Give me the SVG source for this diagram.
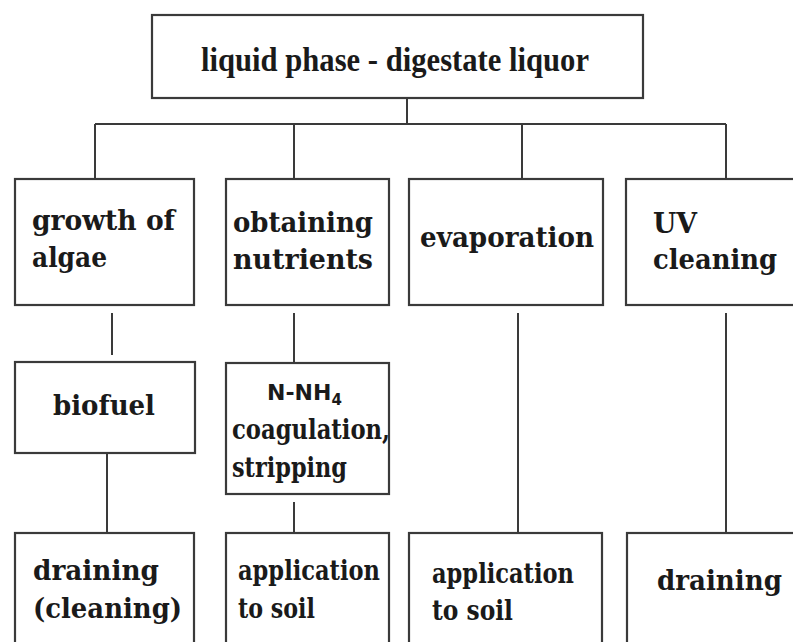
<svg xmlns="http://www.w3.org/2000/svg" width="793" height="642" viewBox="0 0 793 642">
<style>
.box{fill:#fff;stroke:#3a3a3a;stroke-width:2.2}
.ln{stroke:#3a3a3a;stroke-width:2;fill:none}
.t{font-family:"DejaVu Serif","Liberation Serif",serif;font-weight:bold;font-size:28px;fill:#1a1a1a}
.tt{font-family:"Liberation Serif","DejaVu Serif",serif;font-weight:bold;font-size:33px;fill:#1a1a1a}
.s{font-family:"DejaVu Sans","Liberation Sans",sans-serif;font-weight:bold;font-size:22px;fill:#1a1a1a}
</style>
<rect width="793" height="642" fill="#fff"/>
<g id="connectors">
<path class="ln" d="M407 98V124M95 124H726M95 124V179M294 124V179M522 124V179M726 124V179"/>
<path class="ln" d="M112 313V355M107 453V533M294 313V363M294 502V533M518 313V533M726 313V533"/>
</g>
<g id="n-top"><rect class="box" x="152" y="15" width="491" height="83"/><text class="tt" x="201" y="71" textLength="388" lengthAdjust="spacingAndGlyphs">liquid phase - digestate liquor</text></g>
<g id="n-algae"><rect class="box" x="15" y="179" width="179" height="126"/><text class="t" x="32" y="230" textLength="143" lengthAdjust="spacingAndGlyphs">growth of</text><text class="t" x="32" y="267" textLength="75" lengthAdjust="spacingAndGlyphs">algae</text></g>
<g id="n-nutrients"><rect class="box" x="226" y="179" width="163" height="126"/><text class="t" x="233" y="232" textLength="140" lengthAdjust="spacingAndGlyphs">obtaining</text><text class="t" x="233" y="269" textLength="140" lengthAdjust="spacingAndGlyphs">nutrients</text></g>
<g id="n-evap"><rect class="box" x="409" y="179" width="194" height="126"/><text class="t" x="420" y="247" textLength="174" lengthAdjust="spacingAndGlyphs">evaporation</text></g>
<g id="n-uv"><rect class="box" x="626" y="179" width="180" height="126"/><text class="t" x="653" y="233" textLength="44" lengthAdjust="spacingAndGlyphs">UV</text><text class="t" x="653" y="269" textLength="124" lengthAdjust="spacingAndGlyphs">cleaning</text></g>
<g id="n-biofuel"><rect class="box" x="15" y="362" width="180" height="91"/><text class="t" x="53" y="415" textLength="102" lengthAdjust="spacingAndGlyphs">biofuel</text></g>
<g id="n-nh4"><rect class="box" x="226" y="363" width="163" height="131"/><text class="s" x="267" y="400">N-NH<tspan font-size="15" dy="5">4</tspan></text><text class="t" x="232" y="439" textLength="158" lengthAdjust="spacingAndGlyphs">coagulation,</text><text class="t" x="232" y="477" textLength="115" lengthAdjust="spacingAndGlyphs">stripping</text></g>
<g id="n-drain1"><rect class="box" x="15" y="533" width="179" height="120"/><text class="t" x="33" y="580" textLength="126" lengthAdjust="spacingAndGlyphs">draining</text><text class="t" x="33" y="618" textLength="149" lengthAdjust="spacingAndGlyphs">(cleaning)</text></g>
<g id="n-soil1"><rect class="box" x="226" y="533" width="163" height="120"/><text class="t" x="238" y="580" textLength="142" lengthAdjust="spacingAndGlyphs">application</text><text class="t" x="238" y="618" textLength="77" lengthAdjust="spacingAndGlyphs">to soil</text></g>
<g id="n-soil2"><rect class="box" x="409" y="533" width="193" height="120"/><text class="t" x="432" y="583" textLength="142" lengthAdjust="spacingAndGlyphs">application</text><text class="t" x="432" y="620" textLength="81" lengthAdjust="spacingAndGlyphs">to soil</text></g>
<g id="n-drain2"><rect class="box" x="627" y="533" width="180" height="120"/><text class="t" x="657" y="590" textLength="125" lengthAdjust="spacingAndGlyphs">draining</text></g>
</svg>
